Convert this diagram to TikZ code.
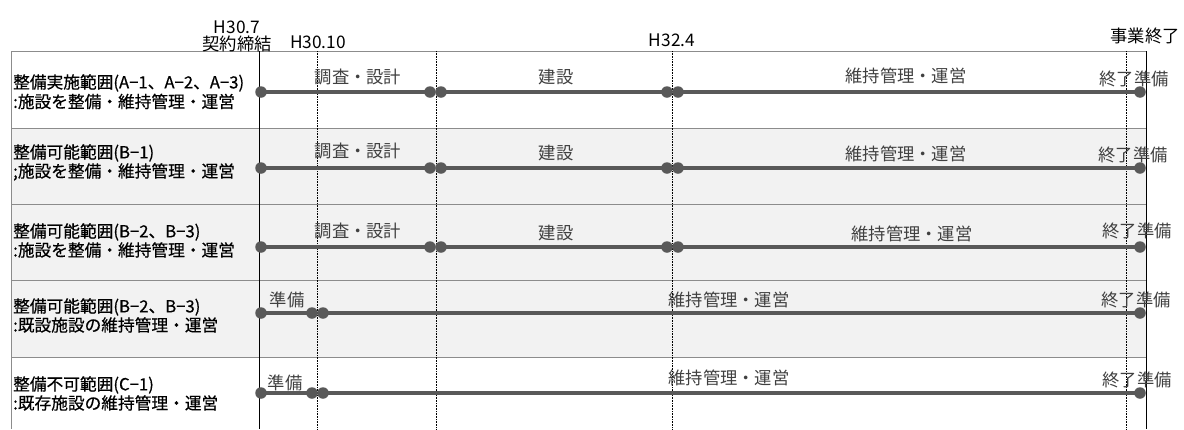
\documentclass[tikz,border=0pt]{standalone}
\usepackage{fontspec}
\setmainfont{Noto Sans CJK JP}
\newfontfamily\leftfont[FakeBold=0.5]{Noto Sans CJK JP}
\definecolor{rowgray}{HTML}{F2F2F2}
\definecolor{bordergray}{HTML}{8C8C8C}
\definecolor{bargray}{HTML}{595959}
\definecolor{tlgray}{HTML}{404040}
\begin{document}
\begin{tikzpicture}[x=1pt,y=-1pt,
  border/.style={draw=bordergray,line width=0.9pt},
  solidv/.style={draw=black,line width=1pt},
  dottedv/.style={draw=black,line width=0.6pt,densely dotted},
  dot/.style={circle,fill=bargray,inner sep=0pt,minimum size=11.5pt},
  bar/.style={draw=bargray,line width=3.4pt},
  tl/.style={inner sep=0pt,text=tlgray,font=\fontsize{17.3}{19}\selectfont,text height=15pt,text depth=2pt},
  lt/.style={inner sep=0pt,anchor=west,text=black,font=\leftfont\fontsize{16.7}{18}\selectfont,text height=14.7pt,text depth=2pt},
  hd/.style={inner sep=0pt,text=black,font=\fontsize{17.3}{19}\selectfont,text height=15pt,text depth=2pt}]
\useasboundingbox (0,0) rectangle (1184,429);
% row backgrounds
\fill[rowgray] (11,128) rectangle (1146,357);
% horizontal borders
\foreach \yy in {51,128,204,280,357}{\draw[border] (11,\yy) -- (1146,\yy);}
\draw[border] (11,51) -- (11,429);
% vertical time lines
\draw[dottedv] (317,51) -- (317,429);
\draw[dottedv] (436,51) -- (436,429);
\draw[dottedv] (672,51) -- (672,429);
\draw[dottedv] (1126,51) -- (1126,429);
\draw[solidv] (259,51) -- (259,429);
\draw[solidv] (1146,51) -- (1146,429);
% header labels
\node[hd] (h307) at (237,26.5) {H30.7};
\node[hd] (keiyaku) at (237,43.5) {契約締結};
\node[hd] (h3010) at (318,42) {H30.10};
\node[hd] (h324) at (672,40) {H32.4};
\node[hd] (shuryo) at (1145,36) {事業終了};
% left labels
\node[lt] (L1a) at (13,82) {整備実施範囲(A−1、A−2、A−3)};
\node[lt] (L1b) at (13,101.5) {:施設を整備・維持管理・運営};
\node[lt] (L2a) at (13,152) {整備可能範囲(B−1)};
\node[lt] (L2b) at (13,171) {;施設を整備・維持管理・運営};
\node[lt] (L3a) at (13,231) {整備可能範囲(B−2、B−3)};
\node[lt] (L3b) at (13,250) {:施設を整備・維持管理・運営};
\node[lt] (L4a) at (13,306) {整備可能範囲(B−2、B−3)};
\node[lt] (L4b) at (13,325) {:既設施設の維持管理・運営};
\node[lt] (L5a) at (13,384) {整備不可範囲(C−1)};
\node[lt] (L5b) at (13,403) {:既存施設の維持管理・運営};
% rows 1-3 bars
\foreach \r/\yy in {1/92,2/168,3/247}{
  \node[dot] (d\r a) at (261,\yy) {};
  \node[dot] (d\r b) at (430,\yy) {};
  \node[dot] (d\r c) at (441,\yy) {};
  \node[dot] (d\r d) at (667,\yy) {};
  \node[dot] (d\r e) at (678,\yy) {};
  \node[dot] (d\r f) at (1140,\yy) {};
  \draw[bar] (d\r a.center) -- (d\r b.center);
  \draw[bar] (d\r c.center) -- (d\r d.center);
  \draw[bar] (d\r e.center) -- (d\r f.center);
}
% rows 4-5 bars
\foreach \r/\yy in {4/313,5/393}{
  \node[dot] (d\r a) at (261,\yy) {};
  \node[dot] (d\r b) at (312,\yy) {};
  \node[dot] (d\r c) at (323,\yy) {};
  \node[dot] (d\r f) at (1140,\yy) {};
  \draw[bar] (d\r a.center) -- (d\r b.center);
  \draw[bar] (d\r c.center) -- (d\r f.center);
}
% timeline labels
\node[tl] (t1a) at (358,77) {調査・設計};
\node[tl] (t1b) at (556,77) {建設};
\node[tl] (t1c) at (906,76) {維持管理・運営};
\node[tl] (t1d) at (1134,79) {終了準備};
\node[tl] (t2a) at (358,151) {調査・設計};
\node[tl] (t2b) at (556,153) {建設};
\node[tl] (t2c) at (906,154) {維持管理・運営};
\node[tl] (t2d) at (1133,155) {終了準備};
\node[tl] (t3a) at (358,231) {調査・設計};
\node[tl] (t3b) at (556,233) {建設};
\node[tl] (t3c) at (912,234) {維持管理・運営};
\node[tl] (t3d) at (1137,231) {終了準備};
\node[tl] (t4a) at (287,300) {準備};
\node[tl] (t4b) at (729,300) {維持管理・運営};
\node[tl] (t4c) at (1136,300) {終了準備};
\node[tl] (t5a) at (285,383) {準備};
\node[tl] (t5b) at (729,378) {維持管理・運営};
\node[tl] (t5c) at (1137,380) {終了準備};
\end{tikzpicture}
\end{document}
